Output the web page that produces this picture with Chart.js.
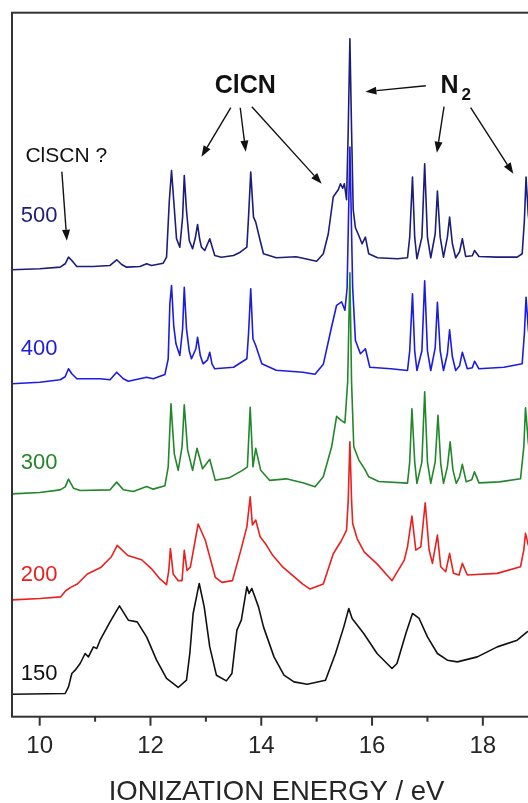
<!DOCTYPE html>
<html>
<head>
<meta charset="utf-8">
<script src="https://cdn.jsdelivr.net/npm/chart.js@4/dist/chart.umd.min.js"></script>
<style>
    html, body { margin: 0; padding: 0; overflow: hidden; background: #fff; }
    #wrap { width: 545px; height: 803px; }
</style>
</head>
<body>
<div id="wrap"><canvas id="pesChart"></canvas></div>
<script>
// sample labels and vertical offsets of each stacked trace
const traceNames = ['150', '200', '300', '400', '500'];
const traceColors = ['#111111', '#e8201e', '#22862a', '#1c1ce0', '#1c1c7c'];
const traceOffsets = [24, 119, 225, 335, 449];
const labelValues = [45, 144, 256, 370, 503];

// x axis ticks (eV)
const tickValues = [10, 11, 12, 13, 14, 15, 16, 17, 18, 19];
const tickLabels = ['10', '', '12', '', '14', '', '16', '', '18', ''];

// 150
const e150 = [9.50, 10.46, 10.52, 10.58, 10.64, 10.73, 10.82, 10.88, 10.97, 11.03,
    11.09, 11.27, 11.44, 11.60, 11.76, 11.93, 12.11, 12.29, 12.50, 12.65,
    12.71, 12.77, 12.88, 12.97, 13.07, 13.19, 13.37, 13.47, 13.56, 13.64,
    13.74, 13.78, 13.83, 13.95, 14.04, 14.23, 14.41, 14.59, 14.83, 15.16,
    15.34, 15.49, 15.58, 15.64, 15.85, 16.09, 16.36, 16.45, 16.61, 16.73,
    16.85, 17.00, 17.18, 17.36, 17.54, 17.90, 18.26, 18.62, 18.80, 19.00];
const h150 = [0.7, 1.4, 8, 21.4, 24.7, 31.4, 41.4, 38, 48, 46.4,
    54.7, 73, 89, 74.7, 73, 58, 34.7, 16.4, 7.4, 14.7,
    41.4, 81.4, 111.4, 88, 48, 19.7, 14, 21.4, 64.7, 74.7,
    108, 101.4, 106.4, 88, 68, 38, 19.7, 13, 10.7, 14.7,
    41.4, 68, 86.4, 76.4, 61.4, 41.4, 26.4, 31.4, 61.4, 81.4,
    76.4, 58, 41.4, 34.7, 33, 38, 48, 54.7, 63, 68];

// 200
const e200 = [9.50, 10.01, 10.38, 10.47, 10.56, 10.68, 10.86, 11.11, 11.29, 11.40,
    11.59, 11.84, 12.02, 12.17, 12.29, 12.33, 12.36, 12.41, 12.50, 12.57,
    12.61, 12.66, 12.72, 12.86, 12.99, 13.17, 13.29, 13.48, 13.63, 13.74,
    13.80, 13.84, 13.90, 13.98, 14.09, 14.20, 14.39, 14.75, 14.88, 15.12,
    15.30, 15.45, 15.54, 15.57, 15.60, 15.63, 15.65, 15.73, 15.86, 16.09,
    16.36, 16.58, 16.64, 16.72, 16.79, 16.88, 16.96, 17.03, 17.09, 17.18,
    17.24, 17.33, 17.40, 17.47, 17.57, 17.63, 17.72, 18.26, 18.68, 18.74,
    18.77, 18.82, 18.90, 19.00];
const h200 = [0, 1.3, 3, 9.1, 12.5, 15.8, 25.9, 32.7, 42.8, 54.5,
    44.4, 40.1, 31, 20.9, 15.2, 29.3, 51.2, 25.9, 19.2, 19.2,
    49.5, 29.3, 32.7, 75.8, 59.6, 22.6, 17.5, 19.2, 49.5, 73,
    103, 74.8, 79.8, 63, 55, 45, 32.7, 15.8, 10.8, 15.8,
    46.1, 59.6, 69.7, 100, 158, 100, 76.4, 61.3, 47.8, 36,
    19.2, 39.4, 53, 83.8, 49.8, 53, 97.1, 49.8, 36.5, 64.8,
    33.1, 28.1, 46.5, 26.5, 24.8, 36.5, 24.8, 26.5, 33.1, 50,
    66.5, 55, 40, 35];

// 300
const e300 = [9.50, 10.00, 10.37, 10.46, 10.52, 10.61, 10.73, 11.27, 11.39, 11.51,
    11.69, 11.93, 12.05, 12.26, 12.32, 12.37, 12.43, 12.50, 12.57, 12.61,
    12.67, 12.76, 12.84, 12.94, 13.07, 13.17, 13.42, 13.66, 13.75, 13.80,
    13.85, 13.90, 13.99, 14.15, 14.45, 14.75, 14.97, 15.12, 15.27, 15.36,
    15.43, 15.51, 15.56, 15.60, 15.63, 15.67, 15.76, 15.87, 15.94, 16.12,
    16.64, 16.68, 16.72, 16.77, 16.81, 16.90, 16.95, 17.00, 17.06, 17.14,
    17.19, 17.24, 17.29, 17.36, 17.41, 17.46, 17.52, 17.58, 17.63, 17.70,
    17.80, 17.85, 17.93, 18.30, 18.68, 18.74, 18.77, 18.82, 18.90, 19.00];
const h300 = [0, 1.3, 4, 7, 14.7, 5.7, 3.3, 4, 11.7, 4,
    2.3, 7.3, 4.7, 8, 27, 90, 40, 23.5, 47, 89,
    44, 23.5, 45.5, 25, 34.5, 13.5, 16, 23.5, 27, 86.5,
    27, 45.5, 23.5, 13.5, 15, 11, 7, 17, 47, 77.5,
    74, 71, 112, 221, 112, 47, 34, 24.5, 17, 12.3,
    10.7, 32, 85, 32, 10.5, 32, 102, 32, 10.5, 32,
    78.5, 30, 10.5, 27, 52, 24, 10.5, 17, 29.5, 12,
    14, 22, 11, 12, 15, 47, 86, 52, 20, 14];

// 400
const e400 = [9.50, 10.00, 10.37, 10.46, 10.52, 10.58, 10.67, 11.09, 11.27, 11.39,
    11.51, 11.60, 11.93, 12.05, 12.26, 12.32, 12.35, 12.38, 12.42, 12.46,
    12.53, 12.58, 12.61, 12.65, 12.70, 12.74, 12.82, 12.85, 12.90, 12.95,
    13.03, 13.07, 13.11, 13.16, 13.50, 13.74, 13.77, 13.81, 13.85, 13.90,
    14.01, 14.27, 14.75, 14.97, 15.12, 15.27, 15.36, 15.45, 15.51, 15.55,
    15.60, 15.65, 15.70, 15.79, 15.88, 15.96, 16.34, 16.64, 16.68, 16.73,
    16.77, 16.81, 16.90, 16.95, 17.00, 17.06, 17.14, 17.18, 17.23, 17.29,
    17.36, 17.40, 17.45, 17.51, 17.58, 17.63, 17.72, 17.81, 17.85, 17.93,
    18.38, 18.71, 18.75, 18.78, 18.82, 18.90, 19.00];
const h400 = [0, 1.6, 4, 7, 15, 10, 5, 5, 4, 11.6,
    5, 2.6, 6.6, 5, 9.3, 25, 80, 98.3, 58, 40,
    28.3, 55, 96.6, 55, 33, 25, 35, 46.6, 28, 20,
    24, 31.6, 20, 15, 16.6, 25, 50, 95, 45, 38.3,
    20, 13.5, 11.5, 9.5, 19.5, 57, 78.5, 82, 73.5, 96,
    236.6, 96, 43.3, 30, 35, 16.6, 15, 13.3, 33, 90,
    33, 13.3, 33, 103, 33, 13.3, 36, 81.6, 33, 13.3,
    30, 54, 27, 13.3, 18, 31.6, 15, 16, 22.6, 15,
    16.6, 20, 50, 86.6, 55, 20, 16];

// 500
const e500 = [9.50, 10.00, 10.37, 10.46, 10.52, 10.58, 10.67, 10.97, 11.27, 11.39,
    11.48, 11.57, 11.81, 11.93, 12.02, 12.23, 12.29, 12.34, 12.38, 12.42,
    12.47, 12.53, 12.58, 12.61, 12.65, 12.70, 12.76, 12.81, 12.85, 12.89,
    12.92, 12.98, 13.07, 13.16, 13.28, 13.50, 13.62, 13.74, 13.77, 13.81,
    13.86, 13.90, 13.98, 14.04, 14.27, 14.63, 15.00, 15.12, 15.21, 15.30,
    15.39, 15.43, 15.47, 15.50, 15.54, 15.57, 15.60, 15.63, 15.66, 15.70,
    15.76, 15.82, 15.88, 15.94, 16.10, 16.46, 16.64, 16.68, 16.73, 16.77,
    16.81, 16.90, 16.95, 17.00, 17.06, 17.14, 17.18, 17.23, 17.29, 17.36,
    17.40, 17.45, 17.51, 17.58, 17.63, 17.69, 17.81, 17.85, 17.93, 18.26,
    18.62, 18.71, 18.75, 18.78, 18.82, 18.90, 19.00];
const h500 = [0, 1, 2.6, 6, 12.6, 9.3, 3.3, 3.3, 4.3, 10,
    5.3, 2.6, 3.3, 6, 4.3, 6.6, 12.6, 69, 99.3, 69,
    31, 22.6, 52.6, 94.3, 59.3, 29.3, 21, 32, 45.3, 30,
    22.6, 19.3, 31, 14.3, 12.6, 14.3, 17.6, 22.6, 52.6, 97.6,
    52.6, 47.6, 29.3, 16, 12, 13, 8.5, 16, 36, 73,
    80, 86, 81.5, 86, 70, 140, 231, 140, 60, 42,
    34.3, 26, 32.6, 16, 12, 11, 12, 32.6, 92.6, 32.6,
    11, 32.6, 106, 32.6, 12, 36, 78.6, 32.6, 12.6, 32.6,
    52.6, 26, 12, 18, 31, 13.3, 14, 19.3, 13.3, 12.6,
    12.6, 16, 49, 92.6, 55, 18, 14];

const traceE = [e150, e200, e300, e400, e500];
const traceH = [h150, h200, h300, h400, h500];

// annotation texts and arrows, placed in data units (eV, intensity)
const noteTexts = [
    { text: 'ClCN', x: 13.71, y: 633, size: 25, bold: true },
    { text: 'N', x: 17.40, y: 633, size: 25, bold: true },
    { text: '2', x: 17.70, y: 623, size: 17, bold: true },
    { text: 'ClSCN ?', x: 10.48, y: 563, size: 21, bold: false }
];
const arrowFrom = [[13.45, 611], [13.62, 611], [13.83, 612], [16.97, 633], [17.30, 612], [17.78, 611], [10.40, 547]];
const arrowTo = [[12.92, 562], [13.72, 567], [15.09, 535], [15.88, 627], [17.17, 566], [18.55, 545], [10.49, 478]];

const FONT = '"Liberation Sans", Arial, Helvetica, sans-serif';

const framePlugin = {
    id: 'frame',
    afterDraw(chart) {
        const { ctx, chartArea: a } = chart;
        const xs = chart.scales.x;
        ctx.save();
        ctx.strokeStyle = '#333';
        ctx.lineWidth = 2;
        ctx.strokeRect(a.left, a.top, a.right - a.left, a.bottom - a.top);
        // major ticks on even values, short minor ticks on odd ones
        xs.ticks.forEach(t => {
            const px = xs.getPixelForValue(t.value);
            const len = t.value % 2 === 0 ? 9 : 5;
            ctx.beginPath();
            ctx.moveTo(px, a.bottom);
            ctx.lineTo(px, a.bottom + len);
            ctx.stroke();
        });
        ctx.restore();
    }
};

const notesPlugin = {
    id: 'notes',
    afterDatasetsDraw(chart) {
        const { ctx } = chart;
        const xs = chart.scales.x;
        const ys = chart.scales.y;
        ctx.save();
        ctx.textAlign = 'center';
        ctx.textBaseline = 'middle';

        // trace labels
        traceNames.forEach((name, i) => {
            ctx.fillStyle = traceColors[i];
            ctx.font = '22px ' + FONT;
            ctx.fillText(name, xs.getPixelForValue(9.99), ys.getPixelForValue(labelValues[i]));
        });

        ctx.fillStyle = '#111';
        noteTexts.forEach(n => {
            ctx.font = (n.bold ? 'bold ' : '') + n.size + 'px ' + FONT;
            ctx.fillText(n.text, xs.getPixelForValue(n.x), ys.getPixelForValue(n.y));
        });

        ctx.strokeStyle = '#111';
        ctx.lineWidth = 1.4;
        arrowFrom.forEach((f, i) => {
            const x1 = xs.getPixelForValue(f[0]), y1 = ys.getPixelForValue(f[1]);
            const x2 = xs.getPixelForValue(arrowTo[i][0]), y2 = ys.getPixelForValue(arrowTo[i][1]);
            const ang = Math.atan2(y2 - y1, x2 - x1);
            const hl = 11, hw = 4;
            const bx = x2 - hl * Math.cos(ang), by = y2 - hl * Math.sin(ang);
            ctx.beginPath();
            ctx.moveTo(x1, y1);
            ctx.lineTo(bx, by);
            ctx.stroke();
            ctx.beginPath();
            ctx.moveTo(x2, y2);
            ctx.lineTo(bx + hw * Math.sin(ang), by - hw * Math.cos(ang));
            ctx.lineTo(bx - hw * Math.sin(ang), by + hw * Math.cos(ang));
            ctx.closePath();
            ctx.fill();
        });
        ctx.restore();
    }
};

const datasets = traceNames.map((name, i) => ({
    label: name,
    data: traceE[i].map((e, k) => ({ x: e, y: traceOffsets[i] + traceH[i][k] })),
    borderColor: traceColors[i],
    borderWidth: 1.6,
    pointRadius: 0,
    tension: 0,
    fill: false,
    borderJoinStyle: 'round'
}));

new Chart(document.getElementById('pesChart'), {
    type: 'line',
    data: { datasets: datasets },
    options: {
        responsive: true,
        maintainAspectRatio: false,
        animation: false,
        layout: { padding: { top: 12.7, left: 12, right: 4, bottom: 0 } },
        plugins: {
            legend: { display: false },
            tooltip: { enabled: false }
        },
        scales: {
            x: {
                type: 'linear',
                min: 9.5,
                max: 19.05,
                afterBuildTicks: scale => {
                    scale.ticks = tickValues.map(v => ({ value: v }));
                },
                grid: { display: false, drawTicks: true, tickLength: 9 },
                border: { display: false },
                ticks: {
                    autoSkip: false,
                    maxRotation: 0,
                    padding: 6,
                    color: '#262626',
                    font: { size: 24, family: FONT },
                    callback: (v, i) => tickLabels[i]
                },
                title: {
                    display: true,
                    text: 'IONIZATION ENERGY / eV',
                    color: '#262626',
                    font: { size: 27.5, family: FONT, lineHeight: 0.8 },
                    padding: { top: 14.5, bottom: 0 }
                }
            },
            y: { display: false, min: 2.2, max: 706 }
        }
    },
    plugins: [framePlugin, notesPlugin]
});
</script>
</body>
</html>
